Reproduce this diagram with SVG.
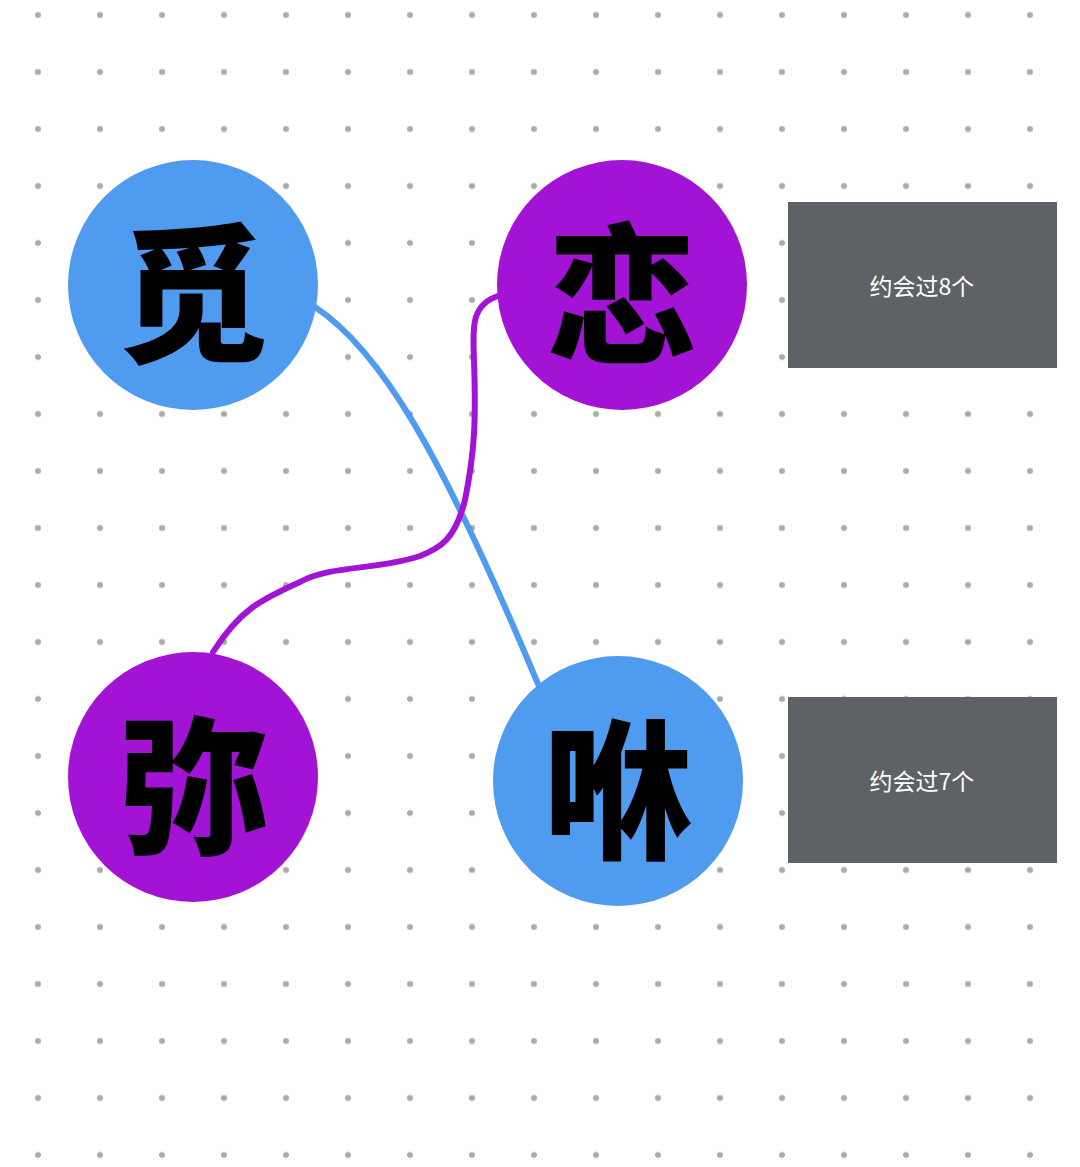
<svg xmlns="http://www.w3.org/2000/svg" width="1080" height="1167" viewBox="0 0 1080 1167">
<defs>
<pattern id="dots" x="7" y="-13.5" width="62" height="57" patternUnits="userSpaceOnUse"><circle cx="31" cy="28.5" r="3" fill="#ababab"/></pattern>
<style>
.big{font-family:"Noto Sans CJK SC",sans-serif;font-weight:900;font-size:150px;fill:#000;text-anchor:middle;dominant-baseline:central}
.lbl{font-family:"Noto Sans CJK SC",sans-serif;font-size:23px;fill:#fff;text-anchor:middle;dominant-baseline:central}
.box{fill:#5e6165}
.edge{fill:none;stroke-width:6;stroke-linecap:round}
</style>
</defs>
<rect width="1080" height="1167" fill="#fff"/>
<rect width="1080" height="1167" fill="url(#dots)"/>
<g id="connectors">
<path class="edge" stroke="#4f9bef" d="M315,307 C380,350 440,450 538,684"/>
<path class="edge" stroke="#a313d6" d="M498,296 C470,305 473,330 474,360 C476,420 475,450 465,500 C455,540 440,548 420,556 C380,570 330,565 300,582 C260,600 240,610 213,652"/>
</g>
<g id="n1"><circle cx="193" cy="285" r="125" fill="#4f9bef"/><text class="big" x="193" y="285">觅</text></g>
<g id="n2"><circle cx="622" cy="285" r="125" fill="#a313d6"/><text class="big" x="622" y="285">恋</text></g>
<g id="n3"><circle cx="193" cy="777" r="125" fill="#a313d6"/><text class="big" x="193" y="777">弥</text></g>
<g id="n4"><circle cx="618" cy="781" r="125" fill="#4f9bef"/><text class="big" x="618" y="781">咻</text></g>
<g id="b1"><rect class="box" x="788" y="202" width="269" height="166"/><text class="lbl" x="922" y="285">约会过8个</text></g>
<g id="b2"><rect class="box" x="788" y="697" width="269" height="166"/><text class="lbl" x="922" y="780">约会过7个</text></g>
</svg>
